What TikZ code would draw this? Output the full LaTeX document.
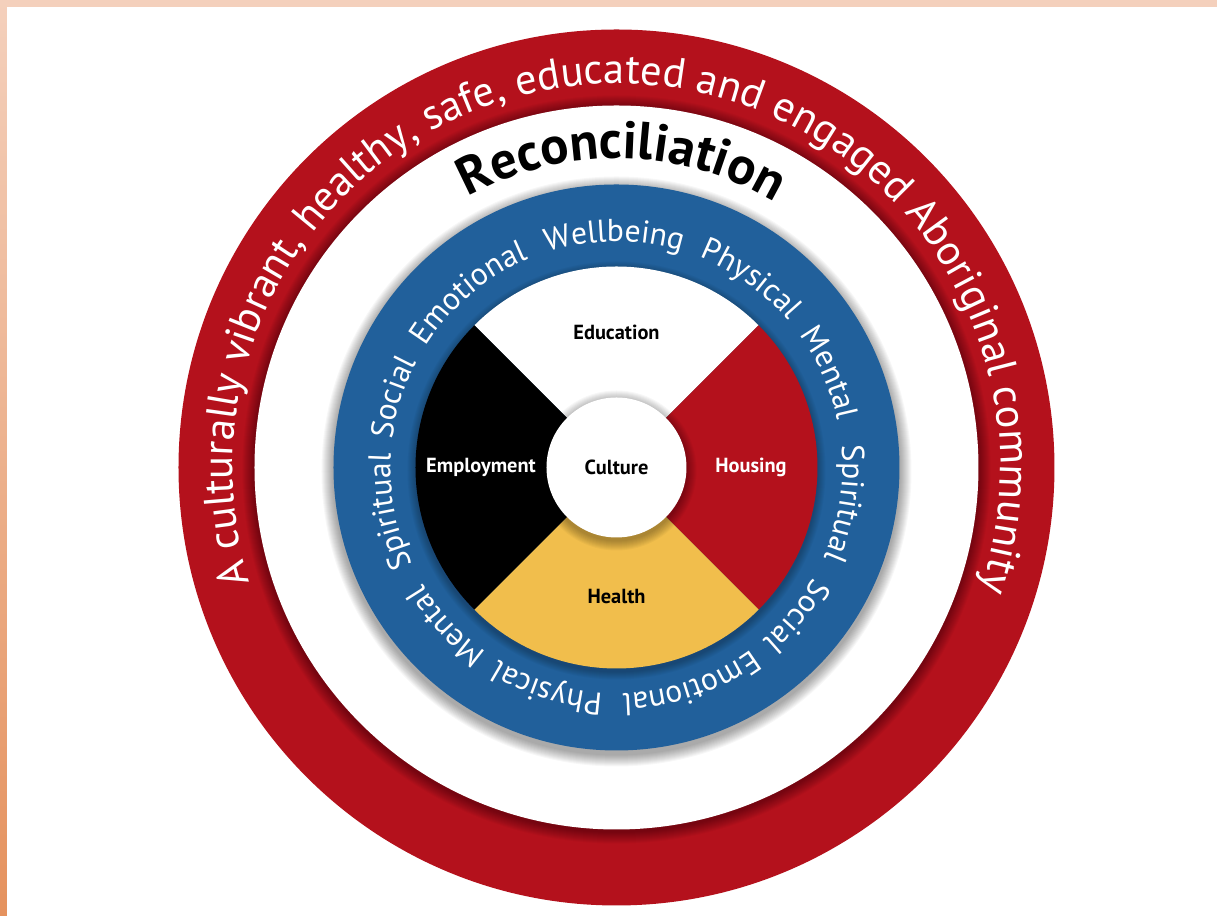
\documentclass[tikz,border=0pt]{standalone}
\usepackage{fontspec}
\setmainfont{PT Sans}
\usetikzlibrary{decorations.text}

\definecolor{ringred}{RGB}{180,17,28}
\definecolor{ringblue}{RGB}{33,96,155}
\definecolor{wheelyellow}{RGB}{241,190,76}
\definecolor{framepeach}{RGB}{244,208,188}
\definecolor{frameorange}{RGB}{229,146,94}

\newcommand\ringfont{\fontsize{12.1}{14}\selectfont}
\newcommand\reconfont{\bfseries\fontsize{15}{18}\selectfont}
\newcommand\wellfont{\fontsize{9}{11}\selectfont}

\tikzset{
  quadlabel/.style={font=\bfseries\fontsize{5.8}{7}\selectfont, inner sep=1pt},
  shadowring/.style={black, opacity=0.03},
}

\begin{document}
\begin{tikzpicture}[x=0.01cm, y=0.01cm]
\useasboundingbox (-616.5,-448.5) rectangle (600.5,467.5);

% Frame
\fill[white] (-616.5,-448.5) rectangle (600.5,467.5);
\fill[framepeach] (-616.5,460.5) rectangle (600.5,467.5);
\shade[top color=framepeach, bottom color=frameorange] (-616.5,-448.5) rectangle (-609.5,467.5);

% Outer red ring
\fill[ringred] (0,0) circle[radius=438];
\foreach \r in {1,...,12}
  \fill[shadowring] (0,-2) circle[radius=362+\r];
\fill[white] (0,0) circle[radius=362];

% Blue ring
\foreach \r in {1,...,12}
  \fill[shadowring] (0,-4) circle[radius=283+\r];
\fill[ringblue] (0,0) circle[radius=283];

% Four quadrants
\foreach \r in {1,...,8}
  \fill[shadowring] (0,-3) circle[radius=201+\r];
\foreach \s/\col in {45/white, -45/ringred, -135/wheelyellow, 135/black}
  \fill[\col] (0,0) -- (\s:201) arc[start angle=\s, end angle=\s+90, radius=201] -- cycle;

% Centre circle
\foreach \r in {1,...,10}
  \fill[shadowring] (0,-3) circle[radius=70+\r];
\fill[white] (0,0) circle[radius=70];

% Quadrant labels
\node[quadlabel] (cul) at (0,0) {Culture};
\node[quadlabel] (edu) at (0,135.5) {Education};
\node[quadlabel, text=white] (emp) at (-135.5,0) {Employment};
\node[quadlabel, text=white] (hou) at (134.5,0) {Housing};
\node[quadlabel] (hea) at (0,-129.5) {Health};

% Text along the rings
\path[decorate, decoration={text along path, text color=white, text align=center,
    text={|\ringfont|A culturally vibrant, healthy, safe, educated and engaged Aboriginal community}}]
  (229.5:384) arc[start angle=229.5, end angle=-50.5, radius=384];
\path[decorate, decoration={text along path, text align=center,
    text={|\reconfont|Reconciliation}}]
  (149:309) arc[start angle=149, end angle=29, radius=309];
\foreach \a/\word in {191/Spiritual, 162.5/Social, 130.3/Emotional, 90.5/Wellbeing, 54.5/Physical,
    24/Mental, -9/Spiritual, -39.5/Social, -71/Emotional, -107.5/Physical, -137/Mental}
  \path[decorate, decoration={text along path, text color=white, text align=center,
      text/.expanded={|\noexpand\wellfont|\word}}]
    ({\a+30}:226) arc[start angle=\a+30, end angle=\a-30, radius=226];

\end{tikzpicture}
\end{document}
